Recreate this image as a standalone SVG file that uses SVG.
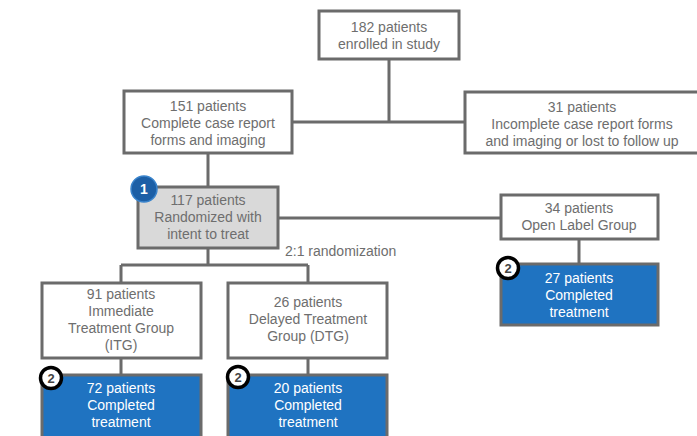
<svg xmlns="http://www.w3.org/2000/svg" width="697" height="436" viewBox="0 0 697 436">
<style>
.box{fill:#fff;stroke:#6b6b6b;stroke-width:3}
.gray{fill:#d9d9d9;stroke:#6b6b6b;stroke-width:3}
.blue{fill:#1f73c1;stroke:#6b6b6b;stroke-width:3}
.t{font-family:"Liberation Sans",Arial,sans-serif;font-size:14px;fill:#6e6e6e;text-anchor:middle}
.w{fill:#fff}
.conn{fill:none;stroke:#6b6b6b;stroke-width:3}
.b2{fill:#fff;stroke:#000;stroke-width:3.5}
.b2t{font-family:"Liberation Sans",Arial,sans-serif;font-size:13px;font-weight:bold;fill:#444;text-anchor:middle}
</style>
<rect width="697" height="436" fill="#fff"/>
<g id="connectors">
<path class="conn" d="M389 59V122M292 122H465M208 153V187M278 218H501M208 248V265M121 265H308M121 265V283M308 265V283M579 239V264M121 358V375M308 358V375"/>
</g>
<g id="n182"><rect class="box" x="319" y="11" width="140" height="48"/>
<text class="t" x="389" y="32">182 patients</text><text class="t" x="389" y="49">enrolled in study</text></g>
<g id="n151"><rect class="box" x="124" y="91" width="168" height="62"/>
<text class="t" x="208" y="111">151 patients</text><text class="t" x="208" y="128">Complete case report</text><text class="t" x="208" y="145">forms and imaging</text></g>
<g id="n31"><rect class="box" x="465" y="92" width="236" height="61"/>
<text class="t" x="582" y="112">31 patients</text><text class="t" x="582" y="129">Incomplete case report forms</text><text class="t" x="582" y="146">and imaging or lost to follow up</text></g>
<g id="n117"><rect class="gray" x="138" y="187" width="140" height="61"/>
<text class="t" x="208" y="205">117 patients</text><text class="t" x="208" y="222">Randomized with</text><text class="t" x="208" y="239">intent to treat</text>
<circle cx="144" cy="189" r="13" fill="#1c5fa6" stroke="#3a84cc" stroke-width="1.5"/>
<text x="144" y="194" font-family="Liberation Sans,Arial,sans-serif" font-size="14" font-weight="bold" fill="#fff" text-anchor="middle">1</text></g>
<g id="lbl"><text x="285" y="256" font-family="Liberation Sans,Arial,sans-serif" font-size="14" fill="#6e6e6e">2:1 randomization</text></g>
<g id="n34"><rect class="box" x="501" y="195" width="157" height="44"/>
<text class="t" x="579" y="213">34 patients</text><text class="t" x="579" y="230">Open Label Group</text></g>
<g id="n27"><rect class="blue" x="501" y="264" width="157" height="61"/>
<text class="t w" x="579" y="283">27 patients</text><text class="t w" x="579" y="300">Completed</text><text class="t w" x="579" y="317">treatment</text>
<circle class="b2" cx="508" cy="268" r="10.5"/><text class="b2t" x="508" y="273">2</text></g>
<g id="n91"><rect class="box" x="42" y="283" width="159" height="75"/>
<text class="t" x="121" y="299">91 patients</text><text class="t" x="121" y="316">Immediate</text><text class="t" x="121" y="333">Treatment Group</text><text class="t" x="121" y="350">(ITG)</text></g>
<g id="n72"><rect class="blue" x="42" y="375" width="159" height="70"/>
<text class="t w" x="121" y="393">72 patients</text><text class="t w" x="121" y="410">Completed</text><text class="t w" x="121" y="427">treatment</text>
<circle class="b2" cx="51" cy="378" r="10.5"/><text class="b2t" x="51" y="383">2</text></g>
<g id="n26"><rect class="box" x="228" y="283" width="159" height="75"/>
<text class="t" x="308" y="307">26 patients</text><text class="t" x="308" y="324">Delayed Treatment</text><text class="t" x="308" y="341">Group (DTG)</text></g>
<g id="n20"><rect class="blue" x="228" y="375" width="159" height="70"/>
<text class="t w" x="308" y="393">20 patients</text><text class="t w" x="308" y="410">Completed</text><text class="t w" x="308" y="427">treatment</text>
<circle class="b2" cx="238" cy="377" r="10.5"/><text class="b2t" x="238" y="382">2</text></g>
</svg>
